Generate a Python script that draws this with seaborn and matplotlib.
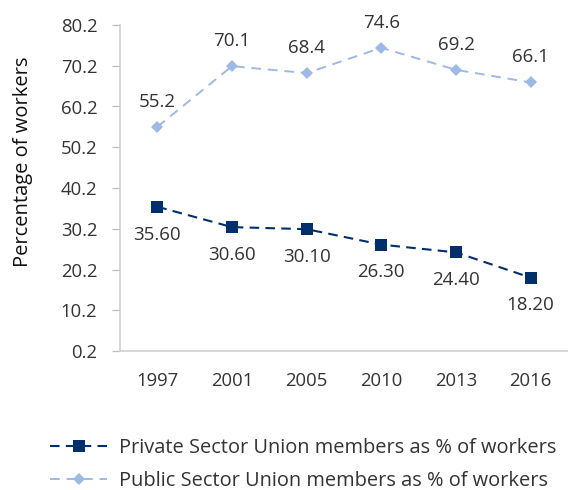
import numpy as np
import pandas as pd
import matplotlib
matplotlib.use("Agg")
import matplotlib.pyplot as plt
import seaborn as sns

sns.set_style("white")
plt.rcParams['font.family'] = ['Open Sans', 'DejaVu Sans']

years = ['1997', '2001', '2005', '2010', '2013', '2016']
private = [35.60, 30.60, 30.10, 26.30, 24.40, 18.20]
public = [55.2, 70.1, 68.4, 74.6, 69.2, 66.1]
private_name = 'Private Sector Union members as % of workers'
public_name = 'Public Sector Union members as % of workers'

df = pd.DataFrame({'year': years, 'private': private, 'public': public})

fig = plt.figure(figsize=(5.68, 4.9), dpi=100)
ax = fig.add_axes([120 / 568, 1 - 351 / 490, 448 / 568, 326 / 490])

navy = '#002F6C'
light = '#9DB9E6'

sns.lineplot(data=df, x='year', y='private', ax=ax, color=navy, marker='s',
             markersize=8.5, markeredgewidth=0, linewidth=1.5,
             label=private_name, sort=False)
sns.lineplot(data=df, x='year', y='public', ax=ax, color=light, marker='D',
             markersize=6.5, markeredgewidth=0, linewidth=1.4,
             label=public_name, sort=False)
ax.lines[0].set_linestyle((0, (4.6, 3)))
ax.lines[1].set_linestyle((0, (5, 3.5)))

for i, v in enumerate(private):
    ax.annotate(f'{v:.2f}', (i, v), xytext=(0, -20), textcoords='offset points',
                ha='center', va='center', fontsize=13.5, color='#333333')
for i, v in enumerate(public):
    ax.annotate(f'{v:.1f}', (i, v), xytext=(0, 18), textcoords='offset points',
                ha='center', va='center', fontsize=13.5, color='#333333')

ax.set_xlim(-0.5, 5.5)
ax.set_ylim(0.2, 80.2)
ax.set_yticks(np.arange(0.2, 80.3, 10))
ax.set_yticklabels([f'{t:.1f}' for t in np.arange(0.2, 80.3, 10)])
ax.set_xlabel('')
ax.set_ylabel('Percentage of workers', fontsize=14.5, color='#111111')
ax.yaxis.set_label_coords(-0.194, 0.58)
ax.tick_params(axis='y', length=5.8, width=0.9, color='#BFBFBF', labelsize=13.3,
               labelcolor='#333333', left=True, pad=10.5)
ax.tick_params(axis='x', length=0, labelsize=13.3, labelcolor='#333333', pad=15)
for s in ['top', 'right']:
    ax.spines[s].set_visible(False)
for s in ['left', 'bottom']:
    ax.spines[s].set_color('#D0D0D0')
    ax.spines[s].set_linewidth(1.2)

ax.legend(loc='center left', bbox_to_anchor=(50 / 568, 1 - 464.5 / 490),
          bbox_transform=fig.transFigure, borderpad=0, borderaxespad=0,
          frameon=False, fontsize=14.4, handlelength=2.85, labelspacing=0.62,
          numpoints=1, handletextpad=0.62, labelcolor='#333333')

fig.savefig('out.png', dpi=100)
